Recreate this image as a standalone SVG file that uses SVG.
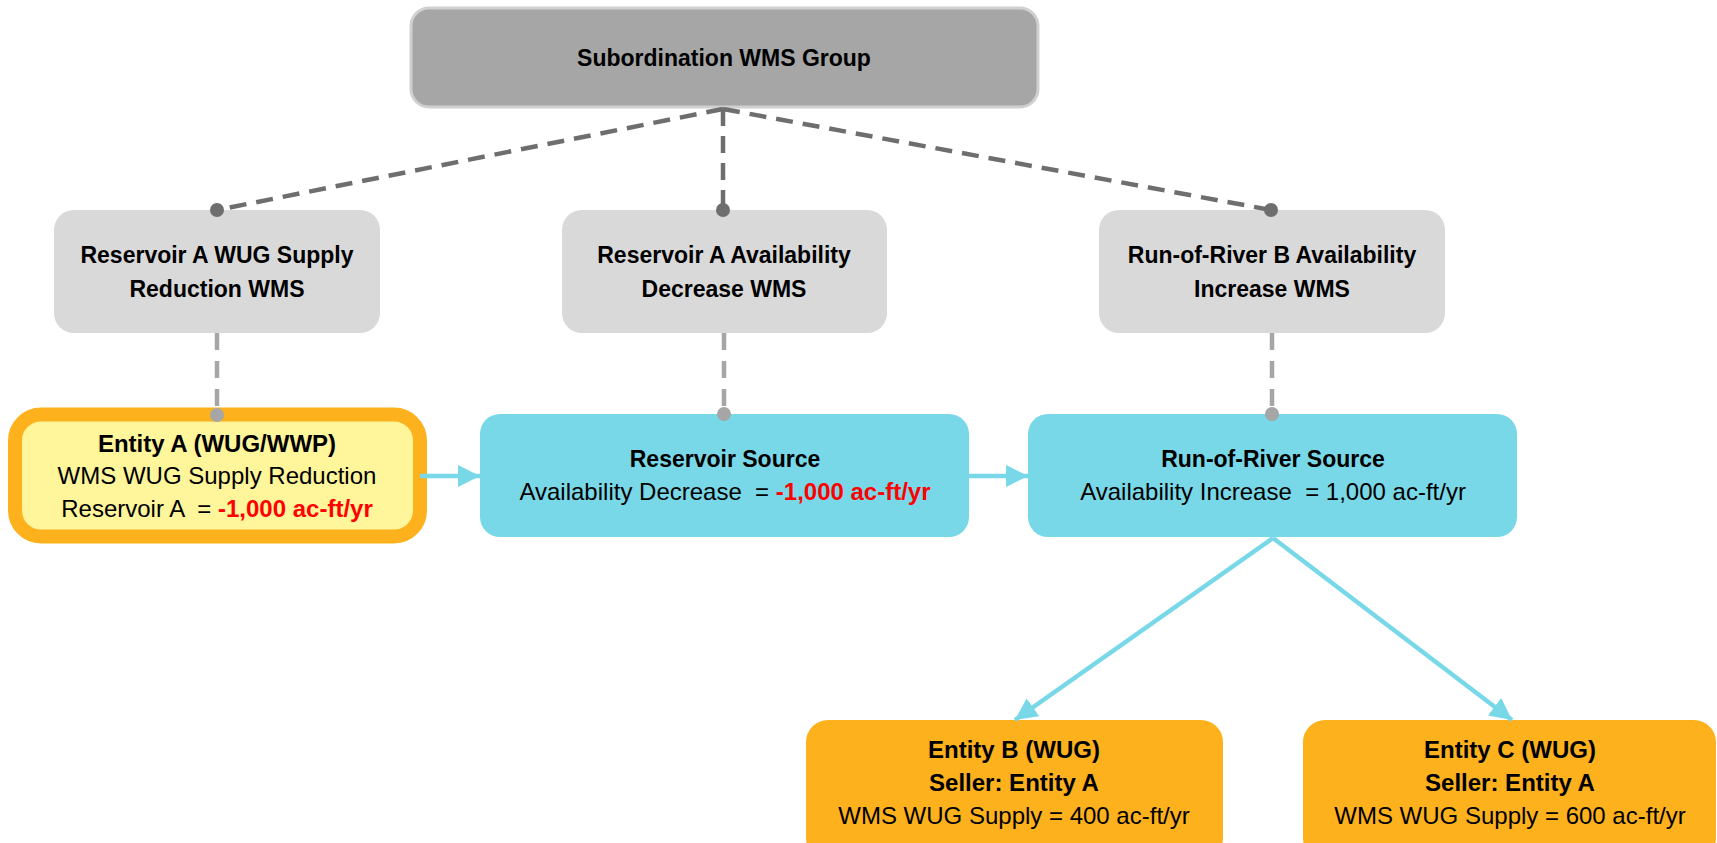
<svg xmlns="http://www.w3.org/2000/svg" width="1717" height="843" viewBox="0 0 1717 843">
<style>
text{font-family:"Liberation Sans",Arial,sans-serif;fill:#000;text-anchor:middle;white-space:pre}
.b{font-weight:bold;font-size:23px}
.r{font-size:24px}
.red{fill:#ff0000;font-weight:bold}
.dk{stroke:#6e6e6e;stroke-width:4.5;stroke-dasharray:17 10;fill:none}
.lt{stroke:#a6a6a6;stroke-width:4.5;stroke-dasharray:17 11;fill:none}
.cy{stroke:#78d8e8;stroke-width:4.5;fill:none}
.gray{fill:#d9d9d9}
.cyan{fill:#78d8e8}
.org{fill:#fdb11d}
</style>
<defs>
<marker id="ah" markerUnits="userSpaceOnUse" markerWidth="24" markerHeight="22" refX="22" refY="11" orient="auto">
<path d="M0,0 L22,11 L0,22 Z" fill="#78d8e8"/>
</marker>
</defs>
<g id="group">
<rect x="411" y="8" width="627" height="99" rx="18" fill="#a6a6a6" stroke="#d0d0d0" stroke-width="3"/>
<text class="b" x="724" y="66">Subordination WMS Group</text>
</g>
<g id="wms1">
<rect class="gray" x="54" y="210" width="326" height="123" rx="20"/>
<text class="b" x="217" y="263">Reservoir A WUG Supply</text>
<text class="b" x="217" y="297">Reduction WMS</text>
</g>
<g id="wms2">
<rect class="gray" x="562" y="210" width="325" height="123" rx="20"/>
<text class="b" x="724" y="263">Reservoir A Availability</text>
<text class="b" x="724" y="297">Decrease WMS</text>
</g>
<g id="wms3">
<rect class="gray" x="1099" y="210" width="346" height="123" rx="20"/>
<text class="b" x="1272" y="263">Run-of-River B Availability</text>
<text class="b" x="1272" y="297">Increase WMS</text>
</g>
<g id="entityA">
<rect x="15" y="414.5" width="405" height="122" rx="26" fill="#fff59b" stroke="#fdb11d" stroke-width="14"/>
<text class="b" x="217" y="452" style="font-size:24px">Entity A (WUG/WWP)</text>
<text class="r" x="217" y="484">WMS WUG Supply Reduction</text>
<text class="r" x="217" y="517" xml:space="preserve">Reservoir A  = <tspan class="red">-1,000 ac-ft/yr</tspan></text>
</g>
<g id="reservoirSource">
<rect class="cyan" x="480" y="414" width="489" height="123" rx="20"/>
<text class="b" x="725" y="467">Reservoir Source</text>
<text class="r" x="725" y="500" xml:space="preserve">Availability Decrease  = <tspan class="red">-1,000 ac-ft/yr</tspan></text>
</g>
<g id="rorSource">
<rect class="cyan" x="1028" y="414" width="489" height="123" rx="20"/>
<text class="b" x="1273" y="467">Run-of-River Source</text>
<text class="r" x="1273" y="500" xml:space="preserve">Availability Increase  = 1,000 ac-ft/yr</text>
</g>
<g id="entityB">
<rect class="org" x="806" y="720" width="417" height="140" rx="22"/>
<text class="b" x="1014" y="758" style="font-size:24px">Entity B (WUG)</text>
<text class="b" x="1014" y="791" style="font-size:24px">Seller: Entity A</text>
<text class="r" x="1014" y="824">WMS WUG Supply = 400 ac-ft/yr</text>
</g>
<g id="entityC">
<rect class="org" x="1303" y="720" width="413" height="140" rx="22"/>
<text class="b" x="1510" y="758" style="font-size:24px">Entity C (WUG)</text>
<text class="b" x="1510" y="791" style="font-size:24px">Seller: Entity A</text>
<text class="r" x="1510" y="824">WMS WUG Supply = 600 ac-ft/yr</text>
</g>
<g id="connectors">
<path class="dk" d="M723,109 L217,210"/>
<path class="dk" d="M723,109 L723,210"/>
<path class="dk" d="M723,109 L1271,210"/>
<circle cx="217" cy="210" r="7" fill="#6e6e6e"/>
<circle cx="723" cy="210" r="7" fill="#6e6e6e"/>
<circle cx="1271" cy="210" r="7" fill="#6e6e6e"/>
<path class="lt" d="M217,333 L217,415"/>
<path class="lt" d="M724,333 L724,414"/>
<path class="lt" d="M1272,333 L1272,414"/>
<circle cx="217" cy="415" r="7" fill="#a6a6a6"/>
<circle cx="724" cy="414" r="7" fill="#a6a6a6"/>
<circle cx="1272" cy="414" r="7" fill="#a6a6a6"/>
<path class="cy" d="M420,476 L480,476" marker-end="url(#ah)"/>
<path class="cy" d="M969,476 L1028,476" marker-end="url(#ah)"/>
<path class="cy" d="M1273,538 L1015,720" marker-end="url(#ah)"/>
<path class="cy" d="M1273,538 L1512,720" marker-end="url(#ah)"/>
</g>
</svg>
